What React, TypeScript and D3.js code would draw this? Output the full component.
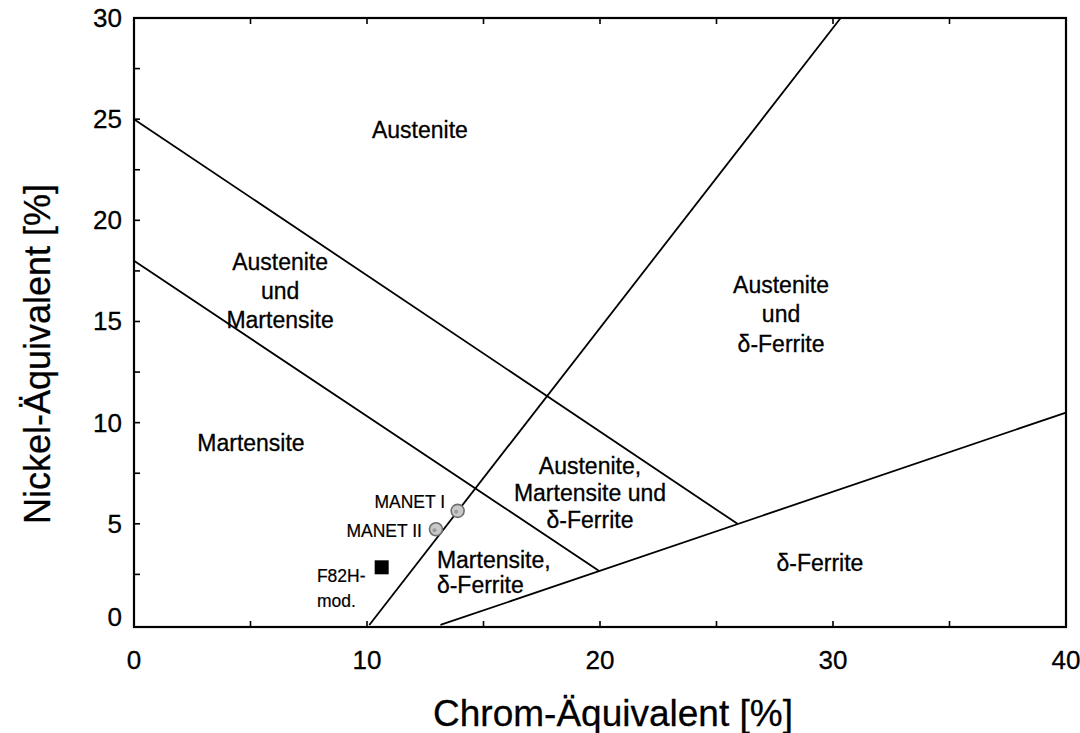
import React from "react";
import * as d3 from "d3";

// Schaeffler-type constitution diagram: Chrom-Äquivalent vs. Nickel-Äquivalent

const xTickValues = [0, 10, 20, 30, 40];
const yTickValues = [0, 5, 10, 15, 20, 25, 30];
const xMinorTicks = [5, 10, 15, 20, 25, 30, 35];
const yMinorTicks = [2.5, 5, 7.5, 10, 12.5, 15, 17.5, 20, 22.5, 25, 27.5];

// phase boundary segments [x1, y1, x2, y2]
const boundaryAustMart = [0, 25, 25.9, 5.0];
const boundaryMartensite = [0, 18, 19.95, 2.68];
const boundaryFerriteStart = [10.1, 0, 30.33, 30];
const boundaryFerrite = [13.15, 0, 40, 10.5];
const boundaries = [boundaryAustMart, boundaryMartensite, boundaryFerriteStart, boundaryFerrite];

// alloys
const alloyNames = ["MANET I", "MANET II", "F82H-mod."];
const alloyCr = [13.89, 12.96, 10.63];
const alloyNi = [5.64, 4.73, 2.85];
const alloyShape = ["circle", "circle", "square"];

// phase field labels: lines, anchor x, first baseline y, anchor
const regionLines = [
  ["Austenite"],
  ["Austenite", "und", "Martensite"],
  ["Martensite"],
  ["Austenite", "und", "δ-Ferrite"],
  ["Austenite,", "Martensite und", "δ-Ferrite"],
  ["Martensite,", "δ-Ferrite"],
  ["δ-Ferrite"],
];
const regionX = [12.27, 6.27, 5.02, 27.77, 19.57, 13.0, 29.44];
const regionY = [24.07, 17.55, 8.6, 16.41, 7.46, 2.82, 2.67];
const regionAnchor = ["middle", "middle", "middle", "middle", "middle", "start", "middle"];
const regionSpacing = [0, 29, 0, 29.5, 27, 25, 0];

// alloy labels
const alloyLabelLines = [["MANET I"], ["MANET II"], ["F82H-", "mod."]];
const alloyLabelX = [13.35, 12.36, 7.85];
const alloyLabelY = [5.78, 4.35, 2.13];
const alloyLabelAnchor = ["end", "end", "start"];

const W = 1080;
const H = 733;
const left = 134;
const right = 1066;
const top = 18;
const bottom = 627;

const FONT = "'Liberation Sans', Arial, Helvetica, sans-serif";

export default function App() {
  const x = d3.scaleLinear().domain([0, 40]).range([left, right]);
  const y = d3.scaleLinear().domain([-0.1, 30]).range([bottom, top]);

  return (
    <svg
      width={W}
      height={H}
      style={{ position: "absolute", left: 0, top: 0, background: "#fff" }}
      fontFamily={FONT}
    >
      <rect x={0} y={0} width={W} height={H} fill="#fff" />

      {/* boundaries */}
      {boundaries.map((b, i) => (
        <line
          key={"b" + i}
          x1={x(b[0])}
          y1={y(b[1])}
          x2={x(b[2])}
          y2={y(b[3])}
          stroke="#000"
          strokeWidth={1.8}
        />
      ))}

      {/* frame */}
      <rect
        x={left}
        y={top}
        width={right - left}
        height={bottom - top}
        fill="none"
        stroke="#000"
        strokeWidth={2.2}
      />

      {/* inward ticks */}
      {xMinorTicks.map((t) => (
        <g key={"xt" + t}>
          <line x1={x(t)} x2={x(t)} y1={bottom} y2={bottom - 6} stroke="#000" strokeWidth={1.6} />
          <line x1={x(t)} x2={x(t)} y1={top} y2={top + 6} stroke="#000" strokeWidth={1.6} />
        </g>
      ))}
      {yMinorTicks.map((t) => (
        <line key={"yt" + t} x1={left} x2={left + 6} y1={y(t)} y2={y(t)} stroke="#000" strokeWidth={1.6} />
      ))}

      {/* tick labels */}
      {xTickValues.map((t) => (
        <text key={"xl" + t} x={x(t)} y={669} fontSize={26} textAnchor="middle" fill="#000" stroke="#000" strokeWidth={0.3}>
          {t}
        </text>
      ))}
      {yTickValues.map((t) => (
        <text
          key={"yl" + t}
          x={122}
          y={t === 0 ? 626 : y(t) + 9}
          fontSize={26}
          textAnchor="end"
          fill="#000"
          stroke="#000"
          strokeWidth={0.3}
        >
          {t}
        </text>
      ))}

      {/* axis titles */}
      <text x={613} y={726} fontSize={37} textAnchor="middle" fill="#000" stroke="#000" strokeWidth={0.3}>
        Chrom-Äquivalent [%]
      </text>
      <text
        transform={`translate(50,354) rotate(-90)`}
        fontSize={36}
        textAnchor="middle"
        fill="#000"
        stroke="#000"
        strokeWidth={0.3}
      >
        Nickel-Äquivalent [%]
      </text>

      {/* region labels */}
      {regionLines.map((lines, i) => (
        <text
          key={"r" + i}
          x={x(regionX[i])}
          y={y(regionY[i])}
          fontSize={23}
          textAnchor={regionAnchor[i] as any}
          fill="#000"
          stroke="#000"
          strokeWidth={0.3}
        >
          {lines.map((ln, j) => (
            <tspan key={j} x={x(regionX[i])} dy={j === 0 ? 0 : regionSpacing[i]}>
              {ln}
            </tspan>
          ))}
        </text>
      ))}

      {/* alloy markers */}
      {alloyNames.map((n, i) =>
        alloyShape[i] === "circle" ? (
          <g key={"m" + n}>
            <circle cx={x(alloyCr[i])} cy={y(alloyNi[i])} r={6.5} fill="#c9c9c9" stroke="#6e6e6e" strokeWidth={1.6} />
            <circle cx={x(alloyCr[i]) - 1.5} cy={y(alloyNi[i]) + 1} r={2} fill="#9a9a9a" />
          </g>
        ) : (
          <rect
            key={"m" + n}
            x={x(alloyCr[i]) - 7}
            y={y(alloyNi[i]) - 7}
            width={14}
            height={14}
            fill="#000"
          />
        )
      )}

      {/* alloy labels */}
      {alloyLabelLines.map((lines, i) => (
        <text
          key={"al" + i}
          x={x(alloyLabelX[i])}
          y={y(alloyLabelY[i])}
          fontSize={17.5}
          textAnchor={alloyLabelAnchor[i] as any}
          fill="#000"
          stroke="#000"
          strokeWidth={0.2}
        >
          {lines.map((ln, j) => (
            <tspan key={j} x={x(alloyLabelX[i])} dy={j === 0 ? 0 : 25}>
              {ln}
            </tspan>
          ))}
        </text>
      ))}
    </svg>
  );
}
